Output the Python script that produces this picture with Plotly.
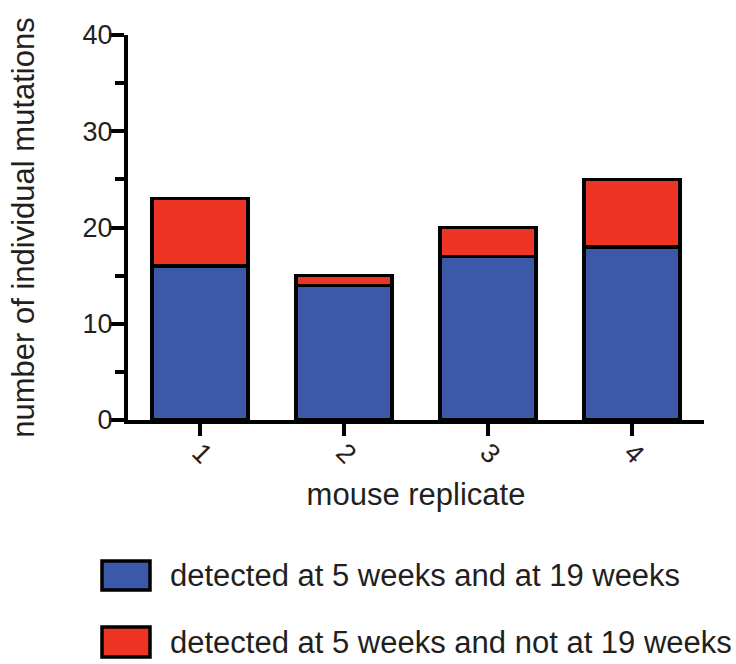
import plotly.graph_objects as go

categories = ["1", "2", "3", "4"]
detected_both = [16, 14, 17, 18]
detected_5_only = [7, 1, 3, 7]
series_names = ["detected at 5 weeks and at 19 weeks",
                "detected at 5 weeks and not at 19 weeks"]
colors = ["#3C58A8", "#EE3524"]
y_ticks = [0, 10, 20, 30, 40]

FONT = "Liberation Sans, Arial, Helvetica, sans-serif"
TXT = "#231F20"

fig = go.Figure()
for name, vals, col in zip(series_names, [detected_both, detected_5_only], colors):
    fig.add_trace(go.Bar(
        x=categories, y=vals, name=name,
        marker=dict(color=col, line=dict(color="black", width=3.5)),
        showlegend=False,
    ))

fig.update_layout(
    barmode="stack",
    bargap=0.33,
    width=736, height=664,
    margin=dict(l=128, r=32, t=35, b=244, autoexpand=False),
    plot_bgcolor="white", paper_bgcolor="white",
    font=dict(family=FONT, color=TXT, size=27),
)
fig.update_xaxes(
    type="category", range=[-0.5, 3.5],
    showline=True, linecolor="black", linewidth=4,
    ticks="outside", ticklen=12, tickwidth=4, tickcolor="black",
    tickangle=45, tickfont=dict(size=27, color=TXT), ticklabelstandoff=-10,
    showgrid=False, zeroline=False,
    title=dict(text="mouse replicate", font=dict(size=31, color=TXT), standoff=16),
)
fig.update_yaxes(
    range=[0, 40], tickvals=y_ticks,
    showline=True, linecolor="black", linewidth=4,
    ticks="outside", ticklen=15, tickwidth=4, tickcolor="black",
    minor=dict(dtick=5, ticks="outside", ticklen=9, tickwidth=4, tickcolor="black", showgrid=False),
    tickfont=dict(size=27, color=TXT), ticklabelstandoff=-9,
    showgrid=False, zeroline=False,
    title=dict(text="number of individual mutations", font=dict(size=31, color=TXT), standoff=40),
)

# custom legend below the chart (pixel -> paper conversion)
plot_w, plot_h = 576.0, 385.0
def px(xp):
    return (xp - 128) / plot_w
def py(yp):
    return (420 - yp) / plot_h

legend_rows = [(561, 590), (627, 657)]
for (y0, y1), name, col in zip(legend_rows, series_names, colors):
    fig.add_shape(type="rect", xref="paper", yref="paper",
                  x0=px(102), x1=px(150), y0=py(y1), y1=py(y0),
                  fillcolor=col, line=dict(color="black", width=3.5))
    fig.add_annotation(xref="paper", yref="paper", x=px(168), y=py((y0 + y1) / 2),
                       text=name, showarrow=False, xanchor="left", yanchor="middle",
                       font=dict(size=31, color=TXT, family=FONT))

fig.write_html("out.html")
